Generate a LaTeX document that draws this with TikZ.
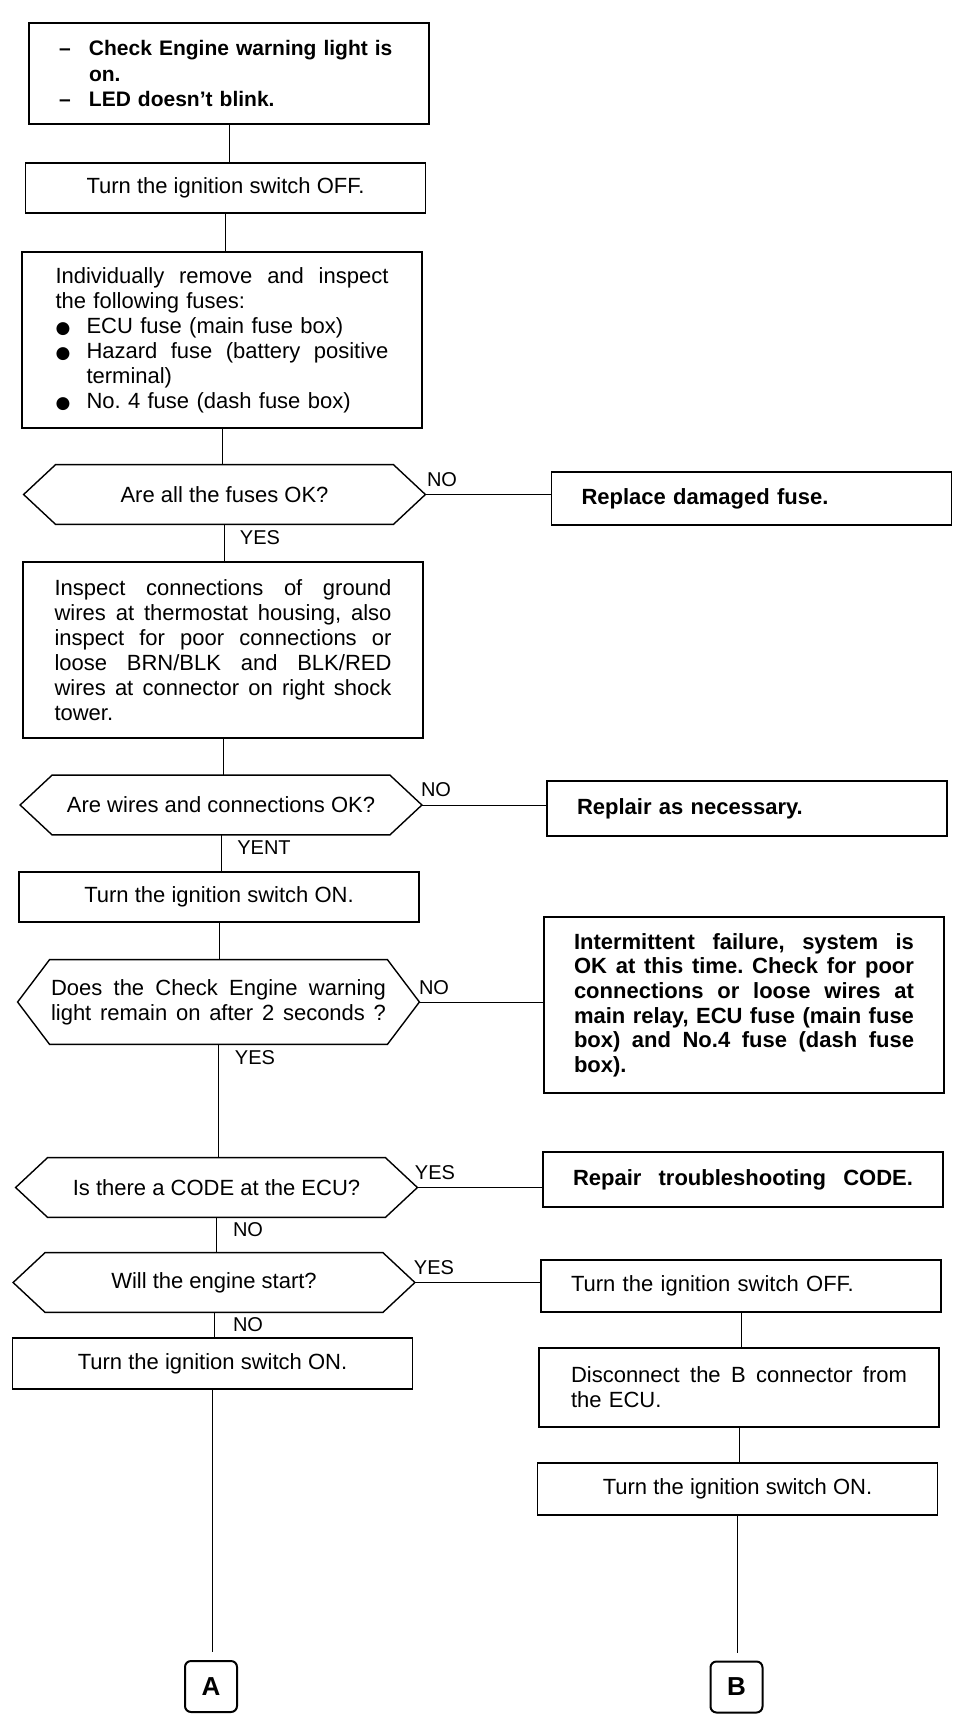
\documentclass[tikz,border=0pt]{standalone}
\usepackage{fontspec}
\setmainfont{Liberation Sans}
\newfontfamily\symfont{DejaVu Sans}
\setlength{\parindent}{0pt}
\frenchspacing
\newcommand{\jline}[1]{{\spaceskip=0.28em plus 2em\xspaceskip=0.28em plus 2em\makebox[\hsize][s]{#1}}}
\newcommand{\bul}{\makebox[15.5pt][l]{\symfont\fontsize{8.5}{8.5}\selectfont ●}}
\newcommand{\dsh}{\makebox[15pt][l]{\textendash}}

\begin{document}
\begin{tikzpicture}[x=0.5pt, y=-0.5pt, font=\fontsize{11}{12.5}\selectfont,
    box/.style = {draw, line width=0.7pt, inner sep=0pt, minimum width=200pt},
    note/.style = {box, align=left, text width=170pt, font=\fontsize{11}{12.3}\selectfont\bfseries},
    decision/.style = {inner sep=0pt, minimum width=200.5pt, minimum height=29.5pt},
    lbl/.style = {inner sep=0pt, font=\fontsize{10}{12}\selectfont},
    con/.style = {line width=0.5pt},
    conn/.style = {draw, line width=1pt, rounded corners=3pt, minimum width=26pt, minimum height=25.5pt, font=\fontsize{13}{13}\selectfont\bfseries}]
    \useasboundingbox (0,0) rectangle (960,1736);
    % Nodes
    \node[box, minimum height=50.5pt, align=left, text width=170pt, font=\fontsize{10.5}{12.8}\selectfont\bfseries] (start) at (229,73.5) {\dsh\mbox{Check Engine warning light is}\\ \hspace*{15pt}on.\\ \dsh LED doesn't blink.};
    \node[box, minimum height=25pt] (off1) at (225.5,188) {Turn the ignition switch OFF.};
    \node[box, minimum height=88pt, align=left, text width=166.5pt] (fuses) at (222,340) {\jline{Individually remove and inspect}\\ the following fuses:\\ \bul ECU fuse (main fuse box)\\ \bul{\spaceskip=0.28em plus 2em\makebox[\dimexpr\hsize-15.5pt\relax][s]{Hazard fuse (battery positive}}\\ \hspace*{15.5pt}terminal)\\ \bul No. 4 fuse (dash fuse box)};
    \node[decision] (q1) at (224.5,494.5) {Are all the fuses OK?};
    \node[note, minimum height=26.5pt] (fix1) at (751.5,498.5) {Replace damaged fuse.};
    \node[box, minimum height=88pt, align=left, text width=168.5pt] (insp) at (223,650) {\jline{Inspect connections of ground}\\ \jline{wires at thermostat housing, also}\\ \jline{inspect for poor connections or}\\ \jline{loose BRN/BLK and BLK/RED}\\ \jline{wires at connector on right shock}\\ tower.};
    \node[decision] (q2) at (221,805) {Are wires and connections OK?};
    \node[note, minimum height=27.5pt] (fix2) at (747,808.5) {Replair as necessary.};
    \node[box, minimum height=25pt] (on1) at (219,897) {Turn the ignition switch ON.};
    \node[decision, minimum height=42pt, align=left, text width=167.5pt] (q3) at (218.5,1002) {\jline{Does the Check Engine warning}\\ \jline{light remain on after 2 seconds ?}};
    \node[note, minimum height=88pt] (intm) at (744,1005) {\jline{Intermittent failure, system is}\\ \jline{OK at this time. Check for poor}\\ \jline{connections or loose wires at}\\ \jline{main relay, ECU fuse (main fuse}\\ \jline{box) and No.4 fuse (dash fuse}\\ box).};
    \node[decision] (q4) at (216.5,1187.5) {Is there a CODE at the ECU?};
    \node[note, minimum height=27.5pt] (code) at (743,1179.5) {\jline{Repair troubleshooting CODE.}};
    \node[decision] (q5) at (214,1282.5) {Will the engine start?};
    \node[box, minimum height=26pt, align=left, text width=170pt] (off2) at (741,1286) {Turn the ignition switch OFF.};
    \node[box, minimum height=25.5pt] (on2) at (212.5,1363.5) {Turn the ignition switch ON.};
    \node[box, minimum height=39.5pt, align=left, text width=168pt] (disc) at (739,1387.5) {\jline{Disconnect the B connector from}\\ the ECU.};
    \node[box, minimum height=26pt] (on3) at (737.5,1489) {Turn the ignition switch ON.};
    \node[conn] (conA) at (211,1686.5) {A};
    \node[conn] (conB) at (736.5,1687) {B};
    % Labels
    \node[lbl] (no1) at (442,480) {NO};
    \node[lbl] (yes1) at (260,538) {YES};
    \node[lbl] (no2) at (436,790) {NO};
    \node[lbl] (yent) at (264,848) {YENT};
    \node[lbl] (no3) at (434,988) {NO};
    \node[lbl] (yes3) at (255,1058) {YES};
    \node[lbl] (yes4) at (435,1173) {YES};
    \node[lbl] (no4) at (248,1230) {NO};
    \node[lbl] (yes5) at (434,1268) {YES};
    \node[lbl] (no5) at (248,1325) {NO};
    % Decision outlines
    \foreach \n in {q1,q2,q3,q4,q5}
        \draw[line width=0.7pt] ([xshift=16pt]\n.north west) -- ([xshift=-16pt]\n.north east) -- (\n.east) -- ([xshift=-16pt]\n.south east) -- ([xshift=16pt]\n.south west) -- (\n.west) -- cycle;
    % Edges
    \draw[con] (start.south) -- (start.south |- off1.north);
    \draw[con] (off1.south) -- (off1.south |- fuses.north);
    \draw[con] (fuses.south) -- (fuses.south |- q1.north);
    \draw[con] (q1.south) -- (q1.south |- insp.north);
    \draw[con] (insp.south) -- (insp.south |- q2.north);
    \draw[con] (q2.south) -- (q2.south |- on1.north);
    \draw[con] (on1.south) -- (on1.south |- q3.north);
    \draw[con] (q3.south) -- (q3.south |- q4.north);
    \draw[con] (q4.south) -- (q4.south |- q5.north);
    \draw[con] (q5.south) -- (q5.south |- on2.north);
    \draw[con, shorten >=4pt] (on2.south) -- (on2.south |- conA.north);
    \draw[con] (q1.east) -- (q1.east -| fix1.west);
    \draw[con] (q2.east) -- (q2.east -| fix2.west);
    \draw[con] (q3.east) -- (q3.east -| intm.west);
    \draw[con] (q4.east) -- (q4.east -| code.west);
    \draw[con] (q5.east) -- (q5.east -| off2.west);
    \draw[con] (off2.south) -- (off2.south |- disc.north);
    \draw[con] (disc.south) -- (disc.south |- on3.north);
    \draw[con, shorten >=4pt] (on3.south) -- (on3.south |- conB.north);
\end{tikzpicture}
\end{document}
